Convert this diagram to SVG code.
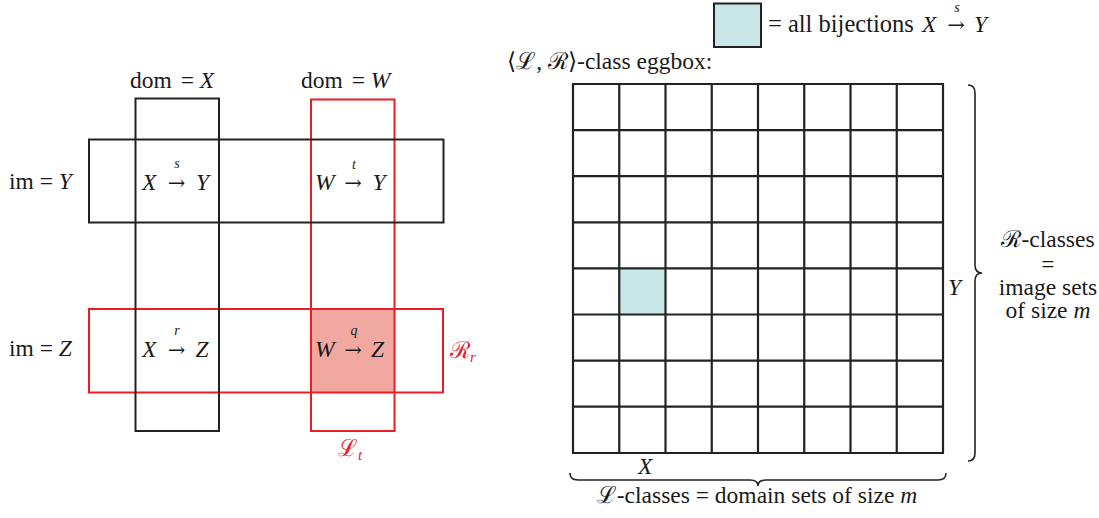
<svg xmlns="http://www.w3.org/2000/svg" width="1099" height="518" viewBox="0 0 1099 518" font-family="Liberation Serif, DejaVu Serif, serif" font-size="23.5">
<style>
text{fill:#1a1a1a}
.i{font-style:italic}
.lab{font-size:14px;font-style:italic;text-anchor:middle}
.m{text-anchor:middle}
.red{fill:#e8202a}
.bk{fill:none;stroke:#222;stroke-width:2}
.rd{fill:none;stroke:#ec1c24;stroke-width:2}
.grid line{stroke:#222;stroke-width:2.2}
.brace{fill:none;stroke:#222;stroke-width:1.6}
</style>
<rect width="1099" height="518" fill="#fff"/>

<g id="cell-WZ-shade"><rect x="311" y="309" width="83.5" height="83.5" fill="#f0a8a0"/></g>
<g id="row-Z"><rect class="rd" x="89" y="309" width="354" height="83.5"/></g>
<g id="col-W"><rect class="rd" x="311" y="99.5" width="83.5" height="331.5"/></g>
<g id="col-X"><rect class="bk" x="135.5" y="98.5" width="83.5" height="332.5"/></g>
<g id="row-Y"><rect class="bk" x="89" y="139.5" width="354.5" height="83"/></g>

<g id="labels-left">
<text x="130" y="88">dom <tspan dx="3">= </tspan><tspan class="i">X</tspan></text>
<text x="301" y="88">dom <tspan dx="3">= </tspan><tspan class="i">W</tspan></text>
<text x="9" y="189">im = <tspan class="i">Y</tspan></text>
<text x="9" y="356">im = <tspan class="i">Z</tspan></text>
</g>

<g id="cell-XY">
<text class="i" x="142" y="190">X</text><text class="m" font-family="DejaVu Serif" font-size="21" x="176.5" y="190">→</text><text class="i" x="196" y="190">Y</text>
<text class="lab" x="177" y="168">s</text>
</g>
<g id="cell-WY">
<text class="i" x="315" y="190">W</text><text class="m" font-family="DejaVu Serif" font-size="21" x="353" y="190">→</text><text class="i" x="372.5" y="190">Y</text>
<text class="lab" x="354" y="169">t</text>
</g>
<g id="cell-XZ">
<text class="i" x="142" y="357">X</text><text class="m" font-family="DejaVu Serif" font-size="21" x="176.5" y="357">→</text><text class="i" x="195.5" y="357">Z</text>
<text class="lab" x="177" y="335">r</text>
</g>
<g id="cell-WZ">
<text class="i" x="315" y="357">W</text><text class="m" font-family="DejaVu Serif" font-size="21" x="353" y="357">→</text><text class="i" x="371" y="357">Z</text>
<text class="lab" x="354" y="335">q</text>
</g>
<g id="R-r"><text class="red" x="450" y="358">ℛ<tspan class="i" font-size="15" dy="4">r</tspan></text></g>
<g id="L-t"><text class="red" x="338" y="456">ℒ<tspan class="i" font-size="15" dy="4">t</tspan></text></g>

<g id="legend">
<rect x="714" y="3.5" width="47" height="43.5" fill="#c8e8e8" stroke="#222" stroke-width="2"/>
<text x="768" y="32" font-size="24.5">= all bijections</text>
<text class="i" x="922" y="32">X</text><text class="m" font-family="DejaVu Serif" font-size="21" x="956" y="32">→</text><text class="i" x="974" y="32">Y</text>
<text class="lab" x="957" y="12">s</text>
</g>
<g id="title"><text x="507" y="69">⟨ℒ, ℛ⟩-class eggbox:</text></g>

<g id="eggbox" class="grid">
<rect x="619.25" y="268.4" width="46.25" height="46.1" fill="#c8e8e8"/>
<line x1="573" y1="84" x2="573" y2="453"/>
<line x1="619.25" y1="84" x2="619.25" y2="453"/>
<line x1="665.5" y1="84" x2="665.5" y2="453"/>
<line x1="711.75" y1="84" x2="711.75" y2="453"/>
<line x1="758" y1="84" x2="758" y2="453"/>
<line x1="804.25" y1="84" x2="804.25" y2="453"/>
<line x1="850.5" y1="84" x2="850.5" y2="453"/>
<line x1="896.75" y1="84" x2="896.75" y2="453"/>
<line x1="943" y1="84" x2="943" y2="453"/>
<line x1="572" y1="84" x2="944" y2="84"/>
<line x1="572" y1="130.1" x2="944" y2="130.1"/>
<line x1="572" y1="176.2" x2="944" y2="176.2"/>
<line x1="572" y1="222.3" x2="944" y2="222.3"/>
<line x1="572" y1="268.4" x2="944" y2="268.4"/>
<line x1="572" y1="314.5" x2="944" y2="314.5"/>
<line x1="572" y1="360.6" x2="944" y2="360.6"/>
<line x1="572" y1="406.7" x2="944" y2="406.7"/>
<line x1="572" y1="453" x2="944" y2="453"/>
</g>
<g id="axis-labels">
<text class="i" x="948" y="295">Y</text>
<text class="i" x="638" y="474">X</text>
</g>

<g id="connectors">
<path class="brace" d="M968 85 Q975 85 975 93 L975 265 Q975 273 982 273 Q975 273 975 281 L975 453 Q975 461 968 461"/>
<path class="brace" d="M570 473 Q570 480 578 480 L750 480 Q758 480 758 486 Q758 480 766 480 L938 480 Q946 480 946 473"/>
</g>

<g id="R-classes">
<text class="m" x="1048" y="247">ℛ-classes</text>
<text class="m" x="1048" y="272">=</text>
<text class="m" x="1048" y="295">image sets</text>
<text class="m" x="1048" y="318">of size <tspan class="i">m</tspan></text>
</g>
<g id="L-classes"><text class="m" x="757" y="503">ℒ-classes = domain sets of size <tspan class="i">m</tspan></text></g>
</svg>
